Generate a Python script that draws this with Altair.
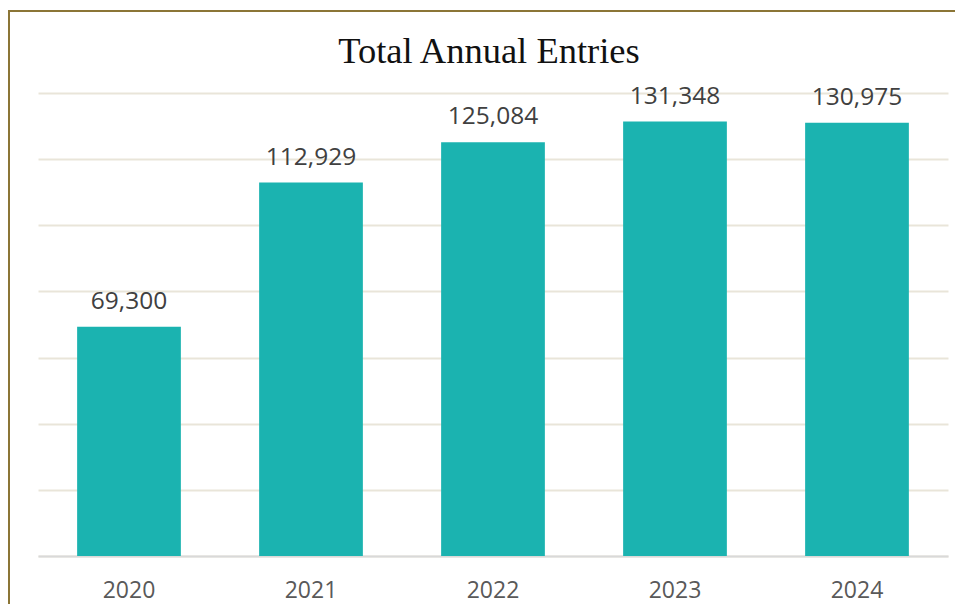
import altair as alt
import pandas as pd

years = ["2020", "2021", "2022", "2023", "2024"]
entries = [69300, 112929, 125084, 131348, 130975]
labels = ["69,300", "112,929", "125,084", "131,348", "130,975"]
y_ticks = [0, 20000, 40000, 60000, 80000, 100000, 120000, 140000]

df = pd.DataFrame({"year": years, "entries": entries, "label": labels})

x_enc = alt.X(
    "year:N",
    sort=years,
    scale=alt.Scale(paddingInner=0.43, paddingOuter=0.215),
    axis=alt.Axis(
        title=None,
        labelAngle=0,
        ticks=False,
        domain=True,
        domainColor="#D9D9D9",
        domainWidth=2,
        labelFont="Open Sans",
        labelFontSize=23,
        labelColor="#595959",
        labelBaseline="alphabetic",
        labelPadding=41,
        grid=False,
    ),
)

y_enc = alt.Y(
    "entries:Q",
    scale=alt.Scale(domain=[0, 140000], nice=False),
    axis=alt.Axis(
        title=None,
        labels=False,
        ticks=False,
        domain=False,
        grid=True,
        values=y_ticks,
        gridColor="#E9E5D9",
        gridWidth=1.8,
    ),
)

base = alt.Chart(df)

bars = base.mark_bar(color="#1BB3B0").encode(x=x_enc, y=y_enc)

text = base.mark_text(
    font="Open Sans",
    fontSize=24.5,
    color="#404040",
    baseline="alphabetic",
    dy=-18,
).encode(x=alt.X("year:N", sort=years), y=alt.Y("entries:Q"), text="label:N")

frame_data = alt.Data(values=[{}])
frame_top = alt.Chart(frame_data).mark_rule(color="#8B7536", strokeWidth=2).encode(
    x=alt.value(-30), x2=alt.value(920), y=alt.value(-82)
)
frame_left = alt.Chart(frame_data).mark_rule(color="#8B7536", strokeWidth=2).encode(
    x=alt.value(-29), y=alt.value(-83), y2=alt.value(520)
)

chart = (
    alt.layer(bars, text, frame_top, frame_left)
    .properties(
        width=910,
        height=463,
        padding={"left": 30, "top": 85, "right": 7, "bottom": 48},
        autosize=alt.AutoSizeParams(type="none"),
        background="white",
        title=alt.TitleParams(
            "Total Annual Entries",
            font="Liberation Serif",
            fontSize=36.5,
            fontWeight="normal",
            color="#111111",
            anchor="middle",
            frame="group",
            baseline="alphabetic",
            offset=0,
            dy=90,
            dx=-4,
        ),
    )
    .configure_view(stroke=None)
)

chart.save("out.html", embed_options={"renderer": "svg", "actions": False})
